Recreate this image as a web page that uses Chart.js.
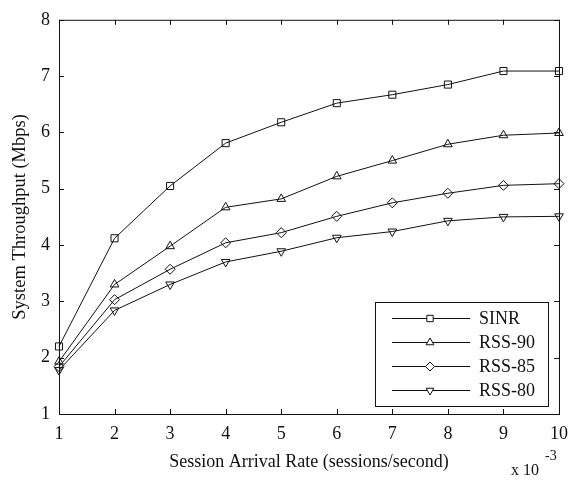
<!DOCTYPE html>
<html>
<head>
<meta charset="utf-8">
<script src="https://cdn.jsdelivr.net/npm/chart.js@4.4.0/dist/chart.umd.min.js"></script>
<style>
  html, body { margin: 0; padding: 0; background: #fff; }
  #wrap { width: 568px; height: 481px; }
</style>
</head>
<body>
<div id="wrap"><canvas id="chart" width="568" height="481"></canvas></div>
<script>
const arrivalRate = [1, 2, 3, 4, 5, 6, 7, 8, 9, 10];
const sinr  = [2.20, 4.12, 5.05, 5.81, 6.18, 6.52, 6.67, 6.85, 7.09, 7.09];
const rss90 = [1.93, 3.30, 3.98, 4.67, 4.82, 5.22, 5.50, 5.79, 5.95, 5.99];
const rss85 = [1.84, 3.03, 3.57, 4.04, 4.22, 4.51, 4.75, 4.92, 5.06, 5.09];
const rss80 = [1.78, 2.84, 3.30, 3.70, 3.89, 4.13, 4.24, 4.43, 4.50, 4.51];
const seriesNames = ["SINR", "RSS-90", "RSS-85", "RSS-80"];
const xTicks = [1, 2, 3, 4, 5, 6, 7, 8, 9, 10];
const yTicks = [1, 2, 3, 4, 5, 6, 7, 8];

const FONT = "'Liberation Serif', 'Times New Roman', serif";
const INK = "#111";

const markers = [
  { style: "rect", radius: 5, rotation: 0 },
  { style: "triangle", radius: 5, rotation: 0 },
  { style: "rectRot", radius: 5, rotation: 0 },
  { style: "triangle", radius: 5, rotation: 180 },
];

const toPoints = (ys) => ys.map((y, i) => ({ x: arrivalRate[i], y }));

const datasets = [sinr, rss90, rss85, rss80].map((ys, i) => ({
  label: seriesNames[i],
  data: toPoints(ys),
  borderColor: INK,
  borderWidth: 1,
  backgroundColor: "rgba(0,0,0,0)",
  pointStyle: markers[i].style,
  pointRadius: markers[i].radius,
  pointRotation: markers[i].rotation,
  pointBorderColor: INK,
  pointBorderWidth: 1,
  pointBackgroundColor: "rgba(0,0,0,0)",
  tension: 0,
  clip: false,
}));

// box, inward ticks, legend and the x 10^-3 note
const frame = {
  id: "frame",
  afterDatasetsDraw(chart) {
    const { ctx, chartArea: a, scales } = chart;
    ctx.save();
    ctx.strokeStyle = INK;
    ctx.lineWidth = 1;
    ctx.strokeRect(a.left + 0.5, a.top + 0.5, a.right - a.left, a.bottom - a.top);
    ctx.beginPath();
    xTicks.forEach((v) => {
      const px = Math.round(scales.x.getPixelForValue(v)) + 0.5;
      ctx.moveTo(px, a.bottom); ctx.lineTo(px, a.bottom - 5);
      ctx.moveTo(px, a.top); ctx.lineTo(px, a.top + 5);
    });
    yTicks.forEach((v) => {
      const py = Math.round(scales.y.getPixelForValue(v)) + 0.5;
      ctx.moveTo(a.left, py); ctx.lineTo(a.left + 5, py);
      ctx.moveTo(a.right, py); ctx.lineTo(a.right - 5, py);
    });
    ctx.stroke();

    // legend
    const box = { x: 375.5, y: 302.5, w: 173, h: 104 };
    ctx.fillStyle = "#fff";
    ctx.fillRect(box.x, box.y, box.w, box.h);
    ctx.strokeRect(box.x, box.y, box.w, box.h);
    const rows = [318, 342, 366, 390];
    ctx.font = "18px " + FONT;
    ctx.textBaseline = "middle";
    chart.data.datasets.forEach((ds, i) => {
      const y = rows[i] + 0.5;
      ctx.beginPath();
      ctx.moveTo(392, y); ctx.lineTo(470, y);
      ctx.stroke();
      ctx.fillStyle = "#fff";
      Chart.helpers.drawPoint(ctx, {
        pointStyle: ds.pointStyle,
        radius: ds.pointRadius - 0.5,
        rotation: ds.pointRotation,
        borderWidth: 1,
      }, 430, y);
      ctx.fillStyle = INK;
      ctx.fillText(ds.label, 479, rows[i] + 1);
    });

    // exponent note
    ctx.font = "16px " + FONT;
    ctx.fillText("x 10", 511, 471);
    ctx.font = "14px " + FONT;
    ctx.fillText("-3", 545, 456);
    ctx.restore();
  },
};

new Chart(document.getElementById("chart"), {
  type: "line",
  data: { datasets },
  options: {
    responsive: false,
    animation: false,
    devicePixelRatio: 1,
    layout: { padding: { top: 14, right: 9, left: 0, bottom: 0 } },
    plugins: { legend: { display: false }, tooltip: { enabled: false } },
    scales: {
      x: {
        type: "linear",
        min: 1,
        max: 10,
        afterFit: (s) => { s.height = 67; s.paddingRight = 0; s.paddingLeft = 0; },
        afterBuildTicks: (s) => { s.ticks = xTicks.map((v) => ({ value: v })); },
        grid: { display: false, drawTicks: false },
        border: { display: false },
        ticks: { color: INK, font: { family: FONT, size: 18 }, padding: 9, maxRotation: 0 },
        title: {
          display: true,
          text: "Session Arrival Rate (sessions/second)",
          color: INK,
          font: { family: FONT, size: 18 },
          padding: { top: 0, bottom: 8 },
        },
      },
      y: {
        type: "linear",
        min: 1,
        max: 8,
        afterFit: (s) => { s.width = 59; },
        afterBuildTicks: (s) => { s.ticks = yTicks.map((v) => ({ value: v })); },
        grid: { display: false, drawTicks: false },
        border: { display: false },
        ticks: { color: INK, font: { family: FONT, size: 18 }, padding: 9 },
        title: {
          display: true,
          text: "System Throughput (Mbps)",
          color: INK,
          font: { family: FONT, size: 18.5 },
          padding: { top: 9, bottom: 0 },
        },
      },
    },
  },
  plugins: [frame],
});
</script>
</body>
</html>
